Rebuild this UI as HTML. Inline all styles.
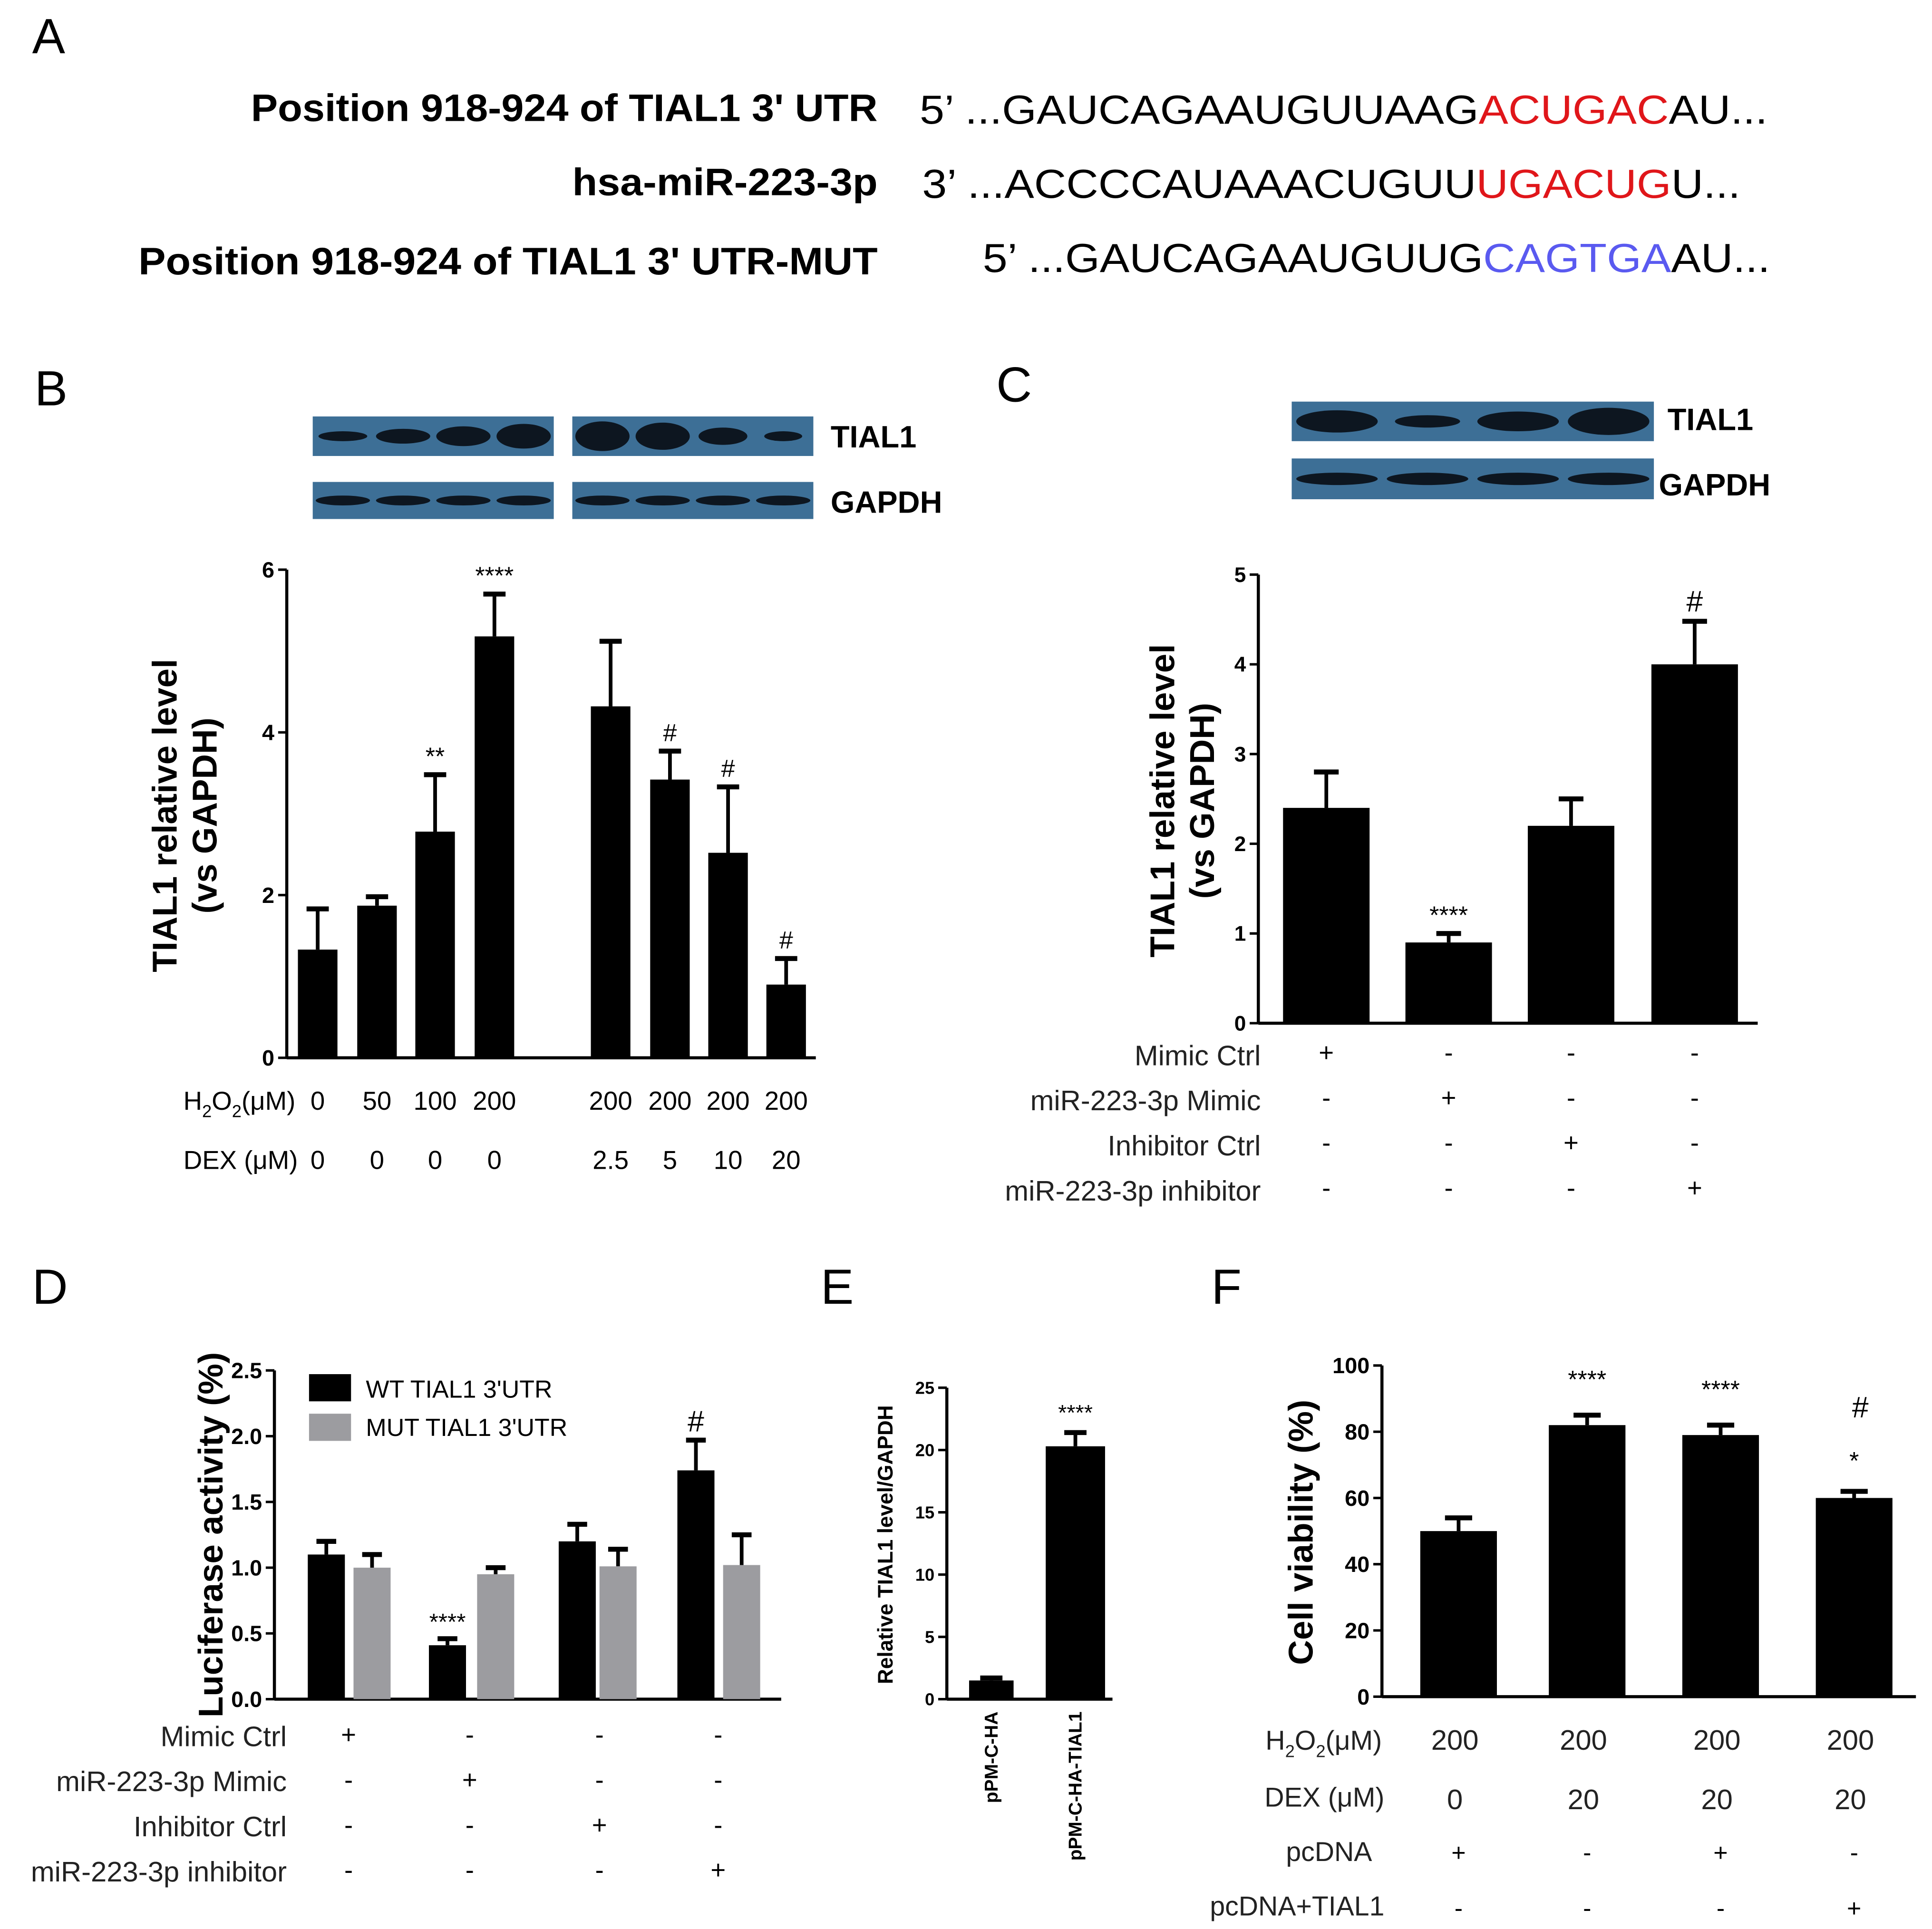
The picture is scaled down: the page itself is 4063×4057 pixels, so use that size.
<!DOCTYPE html>
<html><head><meta charset="utf-8"><style>
html,body{margin:0;padding:0;background:#fff}
svg{display:block}
text{font-family:"Liberation Sans",sans-serif}
</style></head><body>
<svg id="fig" width="4063" height="4057" viewBox="0 0 1563 1561" preserveAspectRatio="none" xmlns="http://www.w3.org/2000/svg">
<rect width="1563" height="1561" fill="#fff"/>
<!-- Panel A -->
<g>
<text x="26" y="43" font-size="40">A</text>
<text x="203" y="98" font-size="31" font-weight="bold" textLength="507" lengthAdjust="spacingAndGlyphs">Position 918-924 of TIAL1 3' UTR</text>
<text x="744" y="100" font-size="33" textLength="686" lengthAdjust="spacingAndGlyphs">5’ ...GAUCAGAAUGUUAAG<tspan fill="#e0161a">ACUGAC</tspan>AU...</text>
<text x="463" y="158" font-size="31" font-weight="bold" textLength="247" lengthAdjust="spacingAndGlyphs">hsa-miR-223-3p</text>
<text x="746" y="160" font-size="33" textLength="662" lengthAdjust="spacingAndGlyphs">3’ ...ACCCCAUAAACUGUU<tspan fill="#e0161a">UGACUG</tspan>U...</text>
<text x="112" y="222" font-size="31" font-weight="bold" textLength="598" lengthAdjust="spacingAndGlyphs">Position 918-924 of TIAL1 3' UTR-MUT</text>
<text x="795" y="220" font-size="33" textLength="637" lengthAdjust="spacingAndGlyphs">5’ ...GAUCAGAAUGUUG<tspan fill="#5a5af0">CAGTGA</tspan>AU...</text>
</g>
<text x="28" y="328" font-size="40">B</text>
<text x="806" y="325" font-size="40">C</text>
<text x="26" y="1055" font-size="40">D</text>
<text x="664" y="1055" font-size="40">E</text>
<text x="980" y="1055" font-size="40">F</text>
<g id="blots"></g>
<g id="charts"></g>
</svg>
<script>
// Panel B data
const bVals=[1.33,1.87,2.78,5.18,4.32,3.42,2.52,0.9];
const bErr=[1.83,1.98,3.48,5.7,5.12,3.77,3.33,1.22];
const bSig=["","","**","****","","#","#","#"];
const bH2O2=["0","50","100","200","200","200","200","200"];
const bDEX=["0","0","0","0","2.5","5","10","20"];
const bTicks=[0,2,4,6];
// Panel C data
const cVals=[2.4,0.9,2.2,4.0];
const cErr=[2.8,1.0,2.5,4.48];
const cSig=["","****","","#"];
const cTicks=[0,1,2,3,4,5];
// Panel D data
const dWT=[1.1,0.41,1.2,1.74];
const dWTErr=[1.2,0.46,1.33,1.97];
const dMUT=[1.0,0.95,1.01,1.02];
const dMUTErr=[1.1,1.0,1.14,1.25];
const dSig=["","****","","#"];
const dTicks=["0.0","0.5","1.0","1.5","2.0","2.5"];
// Panel E data
const eCats=["pPM-C-HA","pPM-C-HA-TIAL1"];
const eVals=[1.5,20.3];
const eErr=[1.7,21.4];
const eTicks=[0,5,10,15,20,25];
// Panel F data
const fVals=[50,82,79,60];
const fErr=[54,85,82,62];
const fSig=["","****","****","*"];
const fTicks=[0,20,40,60,80,100];
const fH2O2=["200","200","200","200"];
const fDEX=["0","20","20","20"];
const fPc=["+","-","+","-"];
const fPcT=["-","-","-","+"];
const signRows=[["+","-","-","-"],["-","+","-","-"],["-","-","+","-"],["-","-","-","+"]];

const NS="http://www.w3.org/2000/svg";
const charts=document.getElementById('charts');
function el(tag,attrs,parent,txt){const e=document.createElementNS(NS,tag);for(const k in attrs)e.setAttribute(k,attrs[k]);if(txt!==undefined)e.textContent=txt;(parent||charts).appendChild(e);return e;}
function lin(d0,d1,r0,r1){return v=>r0+(v-d0)/(d1-d0)*(r1-r0);}
function bar(x,w,y0,y1,fill,name){const r=el('rect',{x:x-w/2,y:Math.min(y0,y1),width:w,height:Math.abs(y1-y0),fill:fill});

return r;}
function errbar(x,yv,ye,cap,name){const g=el('g',{});


el('line',{x1:x,x2:x,y1:yv,y2:ye,stroke:'#000','stroke-width':3},g);el('line',{x1:x-cap,x2:x+cap,y1:ye,y2:ye,stroke:'#000','stroke-width':4},g);}
function axis(x,y0,ytop,xEnd,ticks,scale,fs,labels){
el('line',{x1:x,x2:x,y1:y0,y2:ytop,stroke:'#000','stroke-width':2.5});
el('line',{x1:x,x2:xEnd,y1:y0,y2:y0,stroke:'#000','stroke-width':2.5});
ticks.forEach((t,i)=>{const y=scale(+t);el('line',{x1:x-7,x2:x,y1:y,y2:y,stroke:'#000','stroke-width':2});
const tx=el('text',{x:x-10,y:y+fs*0.35,'font-size':fs,'text-anchor':'end','font-weight':'bold'},null,labels?labels[i]:t);

});}
function ytitle(x,y,lines,fs){lines.forEach((l,i)=>{const t=el('text',{x:0,y:0,'font-size':fs,'font-weight':'bold','text-anchor':'middle',transform:`translate(${x+i*fs*1.15},${y}) rotate(-90)`},null,l);

});}

// ---- Blots
const blots=document.getElementById('blots');
function blot(x,y,w,h,n,widths,thick){el('rect',{x:x,y:y,width:w,height:h,fill:'#3d6f96'},blots);
const step=w/n;for(let i=0;i<n;i++){const cx=x+step*(i+0.5);el('ellipse',{cx:cx,cy:y+h/2,rx:step*0.45*widths[i],ry:thick[i],fill:'#0d1620'},blots);}}
blot(253,337,195,32,4,[0.9,1,1,1],[4,6,8,10]);
blot(463,337,195,32,4,[1,1,0.9,0.7],[12,11,7,4]);
blot(253,390,195,30,4,[1,1,1,1],[4,4,4,4]);
blot(463,390,195,30,4,[1,1,1,1],[4,4,4,4]);
blot(1045,325,293,32,4,[1,0.8,1,1],[9,5,8,11]);
blot(1045,371,293,33,4,[1,1,1,1],[5,5,5,5]);
el('text',{x:672,y:362,'font-size':25,'font-weight':'bold'},blots,'TIAL1');
el('text',{x:672,y:415,'font-size':25,'font-weight':'bold'},blots,'GAPDH');
el('text',{x:1349,y:348,'font-size':25,'font-weight':'bold'},blots,'TIAL1');
el('text',{x:1342,y:401,'font-size':25,'font-weight':'bold'},blots,'GAPDH');

// ---- Panel B
{const ys=lin(0,6,856,461);const xs=[257,305,352,400,494,542,589,636];
axis(232,856,461,660,bTicks,ys,18);
ytitle(143,660,["TIAL1 relative level","(vs GAPDH)"],28);
bVals.forEach((v,i)=>{errbar(xs[i],ys(v),ys(bErr[i]),9,'error-bar-b');bar(xs[i],32,ys(0),ys(v),'#000','bar-b');
if(bSig[i])el('text',{x:xs[i],y:ys(bErr[i])-8,'font-size':20,'text-anchor':'middle'},null,bSig[i]);
el('text',{x:xs[i],y:898,'font-size':21,'text-anchor':'middle'},null,bH2O2[i]);
el('text',{x:xs[i],y:946,'font-size':21,'text-anchor':'middle'},null,bDEX[i]);});
el('text',{x:239,y:898,'font-size':21,'text-anchor':'end'},null).innerHTML='H<tspan font-size="14" dy="6">2</tspan><tspan dy="-6">O</tspan><tspan font-size="14" dy="6">2</tspan><tspan dy="-6">(μM)</tspan>';
el('text',{x:241,y:946,'font-size':21,'text-anchor':'end'},null,'DEX (μM)');}

// ---- Panel C
{const ys=lin(0,5,828,465);const xs=[1073,1172,1271,1371];
axis(1018,828,465,1422,cTicks,ys,17);
ytitle(950,648,["TIAL1 relative level","(vs GAPDH)"],28);
cVals.forEach((v,i)=>{errbar(xs[i],ys(v),ys(cErr[i]),10,'error-bar-c');bar(xs[i],70,ys(0),ys(v),'#000','bar-c');
if(cSig[i])el('text',{x:xs[i],y:ys(cErr[i])-8,'font-size':cSig[i]=='#'?24:20,'text-anchor':'middle'},null,cSig[i]);});
const lab=["Mimic Ctrl","miR-223-3p Mimic","Inhibitor Ctrl","miR-223-3p inhibitor"];
lab.forEach((l,r)=>{const y=862+r*36.5;el('text',{x:1020,y:y,'font-size':23,'text-anchor':'end',fill:'#222'},null,l);
signRows[r].forEach((s,i)=>el('text',{x:xs[i],y:y-3,'font-size':21,'text-anchor':'middle'},null,s));});}

// ---- Panel D
{const ys=lin(0,2.5,1375,1109);const xw=[264,362,467,563],xm=[301,401,500,600];
axis(222,1375,1109,632,[0,0.5,1,1.5,2,2.5],ys,18,dTicks);
ytitle(180,1242,["Luciferase activity (%)"],28);
dWT.forEach((v,i)=>{errbar(xw[i],ys(v),ys(dWTErr[i]),8,'error-bar-wt');bar(xw[i],30,ys(0),ys(v),'#000','bar-wt');
errbar(xm[i],ys(dMUT[i]),ys(dMUTErr[i]),8,'error-bar-mut');bar(xm[i],30,ys(0),ys(dMUT[i]),'#9c9ca0','bar-mut');
if(dSig[i])el('text',{x:xw[i],y:ys(dWTErr[i])-7,'font-size':dSig[i]=='#'?24:19,'text-anchor':'middle'},null,dSig[i]);});
const lg=el('g',{});
el('rect',{x:250,y:1112,width:34,height:22,fill:'#000'},lg);el('text',{x:296,y:1131,'font-size':20},lg,"WT TIAL1 3'UTR");
el('rect',{x:250,y:1144,width:34,height:22,fill:'#9c9ca0'},lg);el('text',{x:296,y:1162,'font-size':20},lg,"MUT TIAL1 3'UTR");
const lab=["Mimic Ctrl","miR-223-3p Mimic","Inhibitor Ctrl","miR-223-3p inhibitor"];
lab.forEach((l,r)=>{const y=1413+r*36.5;el('text',{x:232,y:y,'font-size':23,'text-anchor':'end',fill:'#222'},null,l);
signRows[r].forEach((s,i)=>el('text',{x:xw[i]+18,y:y-2,'font-size':21,'text-anchor':'middle'},null,s));});}

// ---- Panel E
{const ys=lin(0,25,1375,1123);const xs=[802,870];const ws=[36,48];
axis(766,1375,1123,900,eTicks,ys,14);
ytitle(722,1250,["Relative TIAL1 level/GAPDH"],17);
eVals.forEach((v,i)=>{errbar(xs[i],ys(v),ys(eErr[i]),9,'error-bar-e');bar(xs[i],ws[i],ys(0),ys(v),'#000','bar-e');
el('text',{x:0,y:0,'font-size':15,'font-weight':'bold','text-anchor':'end',transform:`translate(${xs[i]+5},1385) rotate(-90)`},null,eCats[i]);});
el('text',{x:870,y:ys(eErr[1])-10,'font-size':18,'text-anchor':'middle'},null,'****');}

// ---- Panel F
{const ys=lin(0,100,1373,1105);const xs=[1180,1284,1392,1500];
axis(1118,1373,1105,1550,fTicks,ys,18);
ytitle(1062,1240,["Cell viability (%)"],28);
fVals.forEach((v,i)=>{errbar(xs[i],ys(v),ys(fErr[i]),11,'error-bar-f');bar(xs[i],62,ys(0),ys(v),'#000','bar-f');
if(fSig[i])el('text',{x:xs[i],y:ys(fErr[i])-(fSig[i]=='*'?18:22),'font-size':20,'text-anchor':'middle'},null,fSig[i]);
el('text',{x:xs[i]-3,y:1416,'font-size':23,'text-anchor':'middle',fill:'#222'},null,fH2O2[i]);
el('text',{x:xs[i]-3,y:1464,'font-size':23,'text-anchor':'middle',fill:'#222'},null,fDEX[i]);
el('text',{x:xs[i],y:1506,'font-size':20,'text-anchor':'middle'},null,fPc[i]);
el('text',{x:xs[i],y:1551,'font-size':20,'text-anchor':'middle'},null,fPcT[i]);});
el('text',{x:1505,y:1147,'font-size':24,'text-anchor':'middle'},null,'#');
el('text',{x:1118,y:1416,'font-size':22,'text-anchor':'end',fill:'#222'},null).innerHTML='H<tspan font-size="14" dy="6">2</tspan><tspan dy="-6">O</tspan><tspan font-size="14" dy="6">2</tspan><tspan dy="-6">(μM)</tspan>';
el('text',{x:1120,y:1462,'font-size':22,'text-anchor':'end',fill:'#222'},null,'DEX (μM)');
el('text',{x:1110,y:1506,'font-size':22,'text-anchor':'end',fill:'#222'},null,'pcDNA');
el('text',{x:1120,y:1550,'font-size':22,'text-anchor':'end',fill:'#222'},null,'pcDNA+TIAL1');}
</script>
</body></html>
